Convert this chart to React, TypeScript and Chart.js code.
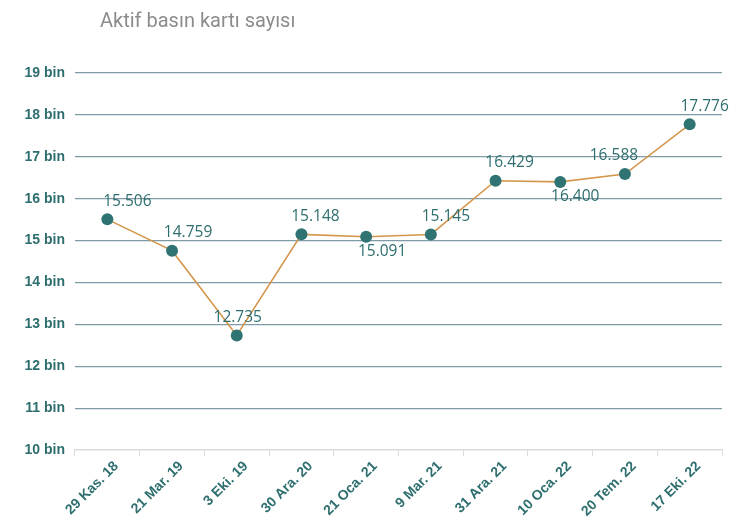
import React, { useEffect, useRef } from "react";
import { Chart, registerables } from "chart.js";

Chart.register(...registerables);

const titleText = "Aktif basın kartı sayısı";
const categories = [
  "29 Kas. 18",
  "21 Mar. 19",
  "3 Eki. 19",
  "30 Ara. 20",
  "21 Oca. 21",
  "9 Mar. 21",
  "31 Ara. 21",
  "10 Oca. 22",
  "20 Tem. 22",
  "17 Eki. 22",
];
const cardCounts = [15506, 14759, 12735, 15148, 15091, 15145, 16429, 16400, 16588, 17776];
const yMin = 10000;
const yMax = 19000;
const yStep = 1000;

// label placement style (not data)
const labelSide = ["top", "top", "top", "top", "bottom", "top", "top", "bottom", "top", "top"];
const labelShiftX = [20, 16, 1, 14, 16, 15, 14, 15, -11, 15];

const TEAL = "#2e6e6e";

function fmt(v: number): string {
  const s = String(Math.round(v));
  return s.replace(/\B(?=(\d{3})+(?!\d))/g, ".");
}

const labelPlugin = {
  id: "valueLabels",
  afterDatasetsDraw(chart: any) {
    const ctx = chart.ctx;
    const meta = chart.getDatasetMeta(0);
    ctx.save();
    ctx.font = "15.5px 'Open Sans'";
    ctx.fillStyle = TEAL;
    ctx.textAlign = "center";
    ctx.textBaseline = "middle";
    meta.data.forEach((pt: any, i: number) => {
      const dy = labelSide[i] === "bottom" ? 15 : -18;
      ctx.fillText(fmt(cardCounts[i]), pt.x + labelShiftX[i], pt.y + dy);
    });
    ctx.restore();
  },
};

const titlePlugin = {
  id: "leftTitle",
  afterDraw(chart: any) {
    const ctx = chart.ctx;
    ctx.save();
    ctx.font = "20px Roboto";
    ctx.fillStyle = "#8c8c8c";
    ctx.textAlign = "left";
    ctx.textBaseline = "middle";
    ctx.fillText(titleText, 100, 22);
    ctx.restore();
  },
};

export default function App() {
  const ref = useRef<HTMLCanvasElement | null>(null);
  useEffect(() => {
    document.body.style.margin = "0";
    const canvas = ref.current;
    if (!canvas) return;
    const chart = new Chart(canvas, {
      type: "line",
      data: {
        labels: categories,
        datasets: [
          {
            data: cardCounts,
            borderColor: "#d4964c",
            borderWidth: 1.6,
            pointRadius: 6,
            pointHoverRadius: 6,
            pointBackgroundColor: "#2f7373",
            pointBorderColor: "#2f7373",
            pointBorderWidth: 0,
            tension: 0,
          },
        ],
      },
      options: {
        responsive: false,
        animation: false,
        events: [],
        layout: { padding: { top: 73, right: 30, left: 0, bottom: 0 } },
        plugins: {
          legend: { display: false },
          title: { display: false },
          tooltip: { enabled: false },
        },
        scales: {
          x: {
            offset: true,
            grid: {
              offset: true,
              drawOnChartArea: false,
              drawTicks: true,
              tickLength: 6,
              color: "#dcdcdc",
            },
            border: { display: true, color: "#dcdcdc", width: 1.5 },
            ticks: {
              minRotation: 45,
              maxRotation: 45,
              autoSkip: false,
              color: TEAL,
              font: { family: "'Liberation Sans'", size: 14, weight: "bold" },
              padding: 2,
              labelOffset: 9,
            },
            afterFit(scale: any) {
              scale.height = 81;
            },
          },
          y: {
            min: yMin,
            max: yMax,
            grid: {
              drawTicks: false,
              color: (c: any) => (c.index === 0 ? "rgba(0,0,0,0)" : "#7f9ba6"),
              lineWidth: 1.2,
            },
            border: { display: false },
            ticks: {
              stepSize: yStep,
              color: TEAL,
              padding: 10,
              font: { family: "'Liberation Sans'", size: 14, weight: "bold" },
              callback: (v: any) => `${Number(v) / 1000} bin`,
            },
            afterFit(scale: any) {
              scale.width = 75;
            },
          },
        },
      },
      plugins: [labelPlugin, titlePlugin],
    });
    return () => chart.destroy();
  }, []);
  return (
    <div style={{ width: 752, height: 531, background: "#fff" }}>
      <canvas ref={ref} width={752} height={531} style={{ display: "block" }} />
    </div>
  );
}
